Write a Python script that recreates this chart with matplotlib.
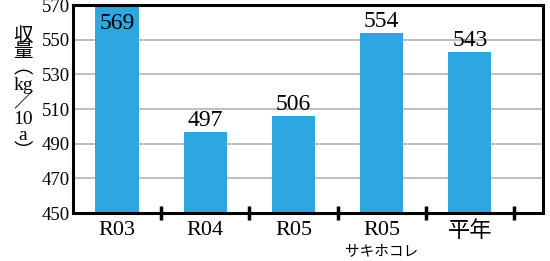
import matplotlib
matplotlib.use("Agg")
import matplotlib.pyplot as plt
import matplotlib.transforms as mtransforms
import numpy as np

categories = ["R03", "R04", "R05", "R05", "平年"]
sub_labels = ["", "", "", "サキホコレ", ""]
values = [569, 497, 506, 554, 543]
yticks = [450, 470, 490, 510, 530, 550, 570]

FONTS = ["Liberation Serif", "Noto Sans CJK JP", "DejaVu Sans"]
plt.rcParams["font.family"] = FONTS

fig = plt.figure(figsize=(5.5, 2.61), dpi=100)
ax = fig.add_axes([73 / 550, 1 - 213 / 261, 470 / 550, 208 / 261])

x = np.arange(len(categories))
ax.bar(x, values, width=0.49, color="#2ea6e0", zorder=2)

ax.set_ylim(450, 570)
ax.set_xlim(-0.5, 4.83)
ax.set_yticks(yticks)
ax.set_yticklabels([str(t) for t in yticks], fontsize=13.5)
ax.tick_params(axis="y", length=0, pad=2)
ax.yaxis.grid(True, color="#b4b4b4", linewidth=1.2, zorder=1)

# category boundaries as tick marks, labels on minor ticks
ax.set_xticks(np.arange(len(categories)) + 0.5)
ax.set_xticklabels([])
ax.tick_params(axis="x", which="major", direction="inout", length=10, width=2.5)
ax.set_xticks(x, minor=True)
ax.set_xticklabels(categories, minor=True, fontsize=16)
ax.tick_params(axis="x", which="minor", length=0, pad=6)

for s in ax.spines.values():
    s.set_linewidth(2.2)
    s.set_zorder(3)

trans = mtransforms.blended_transform_factory(ax.transData, ax.transAxes)
for xi, sl in zip(x, sub_labels):
    if sl:
        ax.text(xi, -0.148, sl, transform=trans, ha="center", va="top",
                fontsize=10.5, family=["Noto Sans CJK JP", "DejaVu Sans"])

for xi, v in zip(x, values):
    if v + 6 > 570:
        ax.text(xi, v - 3.5, str(v), ha="center", va="top", fontsize=17, zorder=4)
    else:
        ax.text(xi, v + 0.3, str(v), ha="center", va="bottom", fontsize=17, zorder=4)

ylab = "収\n量\n︵\nkg\n／\n10\na\n︶"
fig.text(23 / 550, 1 - 94 / 261, ylab, ha="center", va="center", fontsize=14,
         linespacing=0.95, family=FONTS)

fig.savefig("out.png", dpi=100)
